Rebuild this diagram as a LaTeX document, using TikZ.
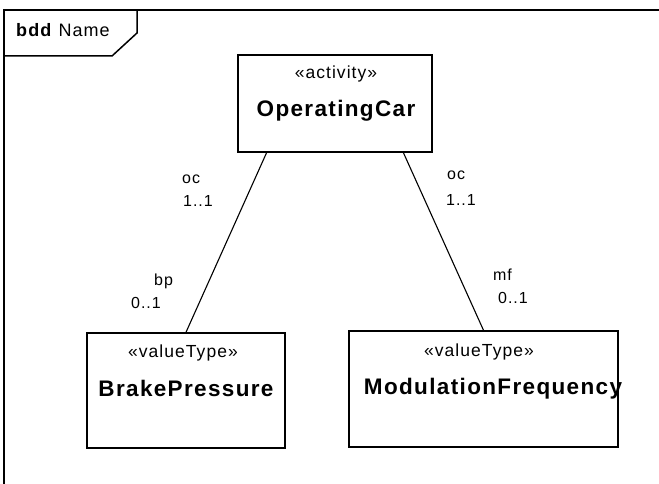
\documentclass[tikz,border=0pt]{standalone}
\usepackage{fontspec}
\setmainfont{Liberation Sans}[LetterSpace=6]
\usetikzlibrary{calc}
\begin{document}
\begin{tikzpicture}[x=1pt, y=-1pt,
    block/.style={draw, line width=1.5pt, inner sep=0pt},
    stereo/.style={anchor=base, inner sep=0pt, font=\fontsize{17.5}{20}\selectfont},
    title/.style={anchor=base, inner sep=0pt, font=\fontsize{22.5}{26}\selectfont\bfseries},
    role/.style={anchor=base west, inner sep=0pt, font=\fontsize{16}{18}\selectfont}]
    \useasboundingbox (0,0) rectangle (659,484);
    \clip (0,0) rectangle (659,484);
    \fill[white] (0,0) rectangle (659,484);
    \draw[line width=1.5pt] (4,500) -- (4,10) -- (680,10);
    \draw[line width=1.5pt] (4,56) -- (112,56) -- (137,33) -- (137,10);
    \node[anchor=base west, inner sep=0pt, font=\fontsize{18}{21}\selectfont] (frametitle) at (16,37) {\textbf{bdd} Name};

    \node[block, minimum width=194, minimum height=97] (car) at (335,103.5) {};
    \node[block, minimum width=198, minimum height=115] (bp) at (186,390.5) {};
    \node[block, minimum width=269, minimum height=116] (mf) at (483.5,389) {};

    \node[stereo] (carst) at (336,79) {«activity»};
    \node[title] (carname) at (336,117) {OperatingCar};
    \node[stereo] (bpst) at (183,357) {«valueType»};
    \node[title] (bpname) at (186,396) {BrakePressure};
    \node[stereo] (mfst) at (479,356) {«valueType»};
    \node[title] (mfname) at (493,394) {ModulationFrequency};

    \draw[line width=1.1pt] ($(car.south west)!0.15!(car.south east)$) -- (bp.north);
    \draw[line width=1.1pt] ($(car.south west)!0.85!(car.south east)$) -- (mf.north);

    \node[role] (ocl) at (182,183) {oc};
    \node[role] (ocln) at (183,207) {1..1};
    \node[role] (bprole) at (154,285) {bp};
    \node[role, anchor=base east] (bpn) at (161,308) {0..1};
    \node[role] (ocr) at (447,180) {oc};
    \node[role] (ocrn) at (446,205) {1..1};
    \node[role] (mfrole) at (493,280) {mf};
    \node[role] (mfn) at (498,303) {0..1};
\end{tikzpicture}
\end{document}
